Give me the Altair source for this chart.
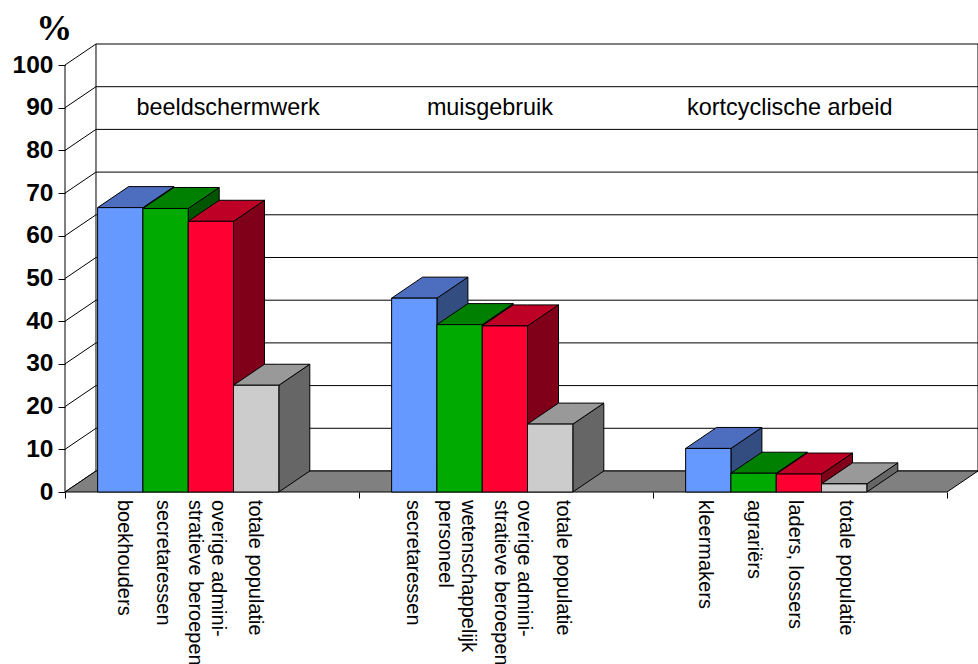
import altair as alt
import pandas as pd

# Percentages per occupational group, three panels of four bars each
HEADERS = ["beeldschermwerk", "muisgebruik", "kortcyclische arbeid"]
VALUES = [
    [66.6, 66.4, 63.4, 25.0],
    [45.4, 39.2, 38.9, 15.9],
    [10.2, 4.4, 4.2, 1.9],
]
LABELS = [
    ["boekhouders", "secretaressen", "overige admini-\nstratieve beroepen", "totale populatie"],
    ["secretaressen", "wetenschappelijk\npersoneel", "overige admini-\nstratieve beroepen", "totale populatie"],
    ["kleermakers", "agrariërs", "laders, lossers", "totale populatie"],
]
TICKS = list(range(0, 101, 10))

# Face colours per series position: front, top, side
FRONT = ["#6699FF", "#00AA00", "#FF0033", "#CCCCCC"]
TOP = ["#4D6EBF", "#008000", "#BF0026", "#999999"]
SIDE = ["#334D80", "#005500", "#800019", "#666666"]

# Horizontal layout in bar widths, depth of the oblique projection in axis units
GROUP_SPAN = 6.49
BAR_START = 0.72
DEPTH_X = 0.684
DEPTH_Y = 4.92
N_GROUPS = len(VALUES)
FRONT_END = GROUP_SPAN * N_GROUPS
# Slot of each label's first line
LABEL_SLOTS = [
    [1.30, 2.16, 3.37, 4.19],
    [7.68, 8.90, 10.14, 10.99],
    [14.13, 15.21, 16.12, 17.24],
]
HEADER_SLOTS = [3.6, 9.38, 16.0]

x_scale = alt.Scale(domain=[0, FRONT_END + DEPTH_X], range=[0, 913], nice=False, zero=False)
y_scale = alt.Scale(domain=[0, 100 + DEPTH_Y], range=[448, 0], nice=False, zero=False)
FONT = "Liberation Sans"


def add_poly(rows, face, fill, points):
    for px, py, py2 in points:
        rows.append({"face": face, "x": px, "y": py, "y2": py2, "fill": fill})


# Faces are appended back to front so that later bars overlap earlier ones
faces = []
add_poly(faces, "floor", "#808080", [
    (0, 0, 0),
    (DEPTH_X, 0, DEPTH_Y),
    (FRONT_END, 0, DEPTH_Y),
    (FRONT_END + DEPTH_X, DEPTH_Y, DEPTH_Y),
])
for g, group in enumerate(VALUES):
    for b, value in enumerate(group):
        x0 = g * GROUP_SPAN + BAR_START + b
        x1 = x0 + 1
        key = f"{g}-{b}"
        add_poly(faces, key + "-side", SIDE[b], [
            (x1, 0, value),
            (x1 + DEPTH_X, DEPTH_Y, value + DEPTH_Y),
        ])
        add_poly(faces, key + "-top", TOP[b], [
            (x0, value, value),
            (x0 + DEPTH_X, value, value + DEPTH_Y),
            (x1, value, value + DEPTH_Y),
            (x1 + DEPTH_X, value + DEPTH_Y, value + DEPTH_Y),
        ])
        add_poly(faces, key + "-front", FRONT[b], [
            (x0, 0, value),
            (x1, 0, value),
        ])
faces = pd.DataFrame(faces)

# Back wall: horizontal gridlines, the diagonals on the side wall and the wall edges
wall = []
for t in TICKS:
    wall.append({"x": DEPTH_X, "x2": FRONT_END + DEPTH_X, "y": t + DEPTH_Y, "y2": t + DEPTH_Y})
    wall.append({"x": 0, "x2": DEPTH_X, "y": t, "y2": t + DEPTH_Y})
wall.append({"x": 0, "x2": 0, "y": 0, "y2": 100})
wall.append({"x": DEPTH_X, "x2": DEPTH_X, "y": DEPTH_Y, "y2": 100 + DEPTH_Y})
wall.append({"x": FRONT_END + DEPTH_X, "x2": FRONT_END + DEPTH_X, "y": DEPTH_Y, "y2": 100 + DEPTH_Y})
wall = pd.DataFrame(wall)

# The walls carry the axes; every other layer shares the same scales
wall_layer = alt.Chart(wall).mark_rule(color="#000000", strokeWidth=1).encode(
    x=alt.X("x:Q", scale=x_scale, title=None, axis=alt.Axis(
        values=[g * GROUP_SPAN for g in range(N_GROUPS + 1)], labels=False, domain=False,
        grid=False, tickSize=6, tickColor="#000000", tickWidth=1)),
    x2="x2:Q",
    y=alt.Y("y:Q", scale=y_scale, title=None, axis=alt.Axis(
        values=TICKS, domain=False, grid=False, tickSize=7, tickColor="#000000", tickWidth=1,
        labelFont=FONT, labelFontSize=24.5, labelFontWeight="bold", labelColor="#000000",
        labelPadding=5)),
    y2="y2:Q",
)

face_layer = alt.Chart(faces).mark_area(
    orient="vertical", stroke="#000000", strokeWidth=1, opacity=1, clip=False
).encode(
    x=alt.X("x:Q", scale=x_scale),
    y=alt.Y("y:Q", scale=y_scale),
    y2="y2:Q",
    detail="face:N",
    fill=alt.Fill("fill:N", scale=None),
)

header_layer = alt.Chart(pd.DataFrame({"text": HEADERS, "x": HEADER_SLOTS, "y": [90.0] * 3})).mark_text(
    font=FONT, fontSize=23.4, color="#000000", align="center", baseline="middle"
).encode(
    x=alt.X("x:Q", scale=x_scale),
    y=alt.Y("y:Q", scale=y_scale),
    text="text:N",
)

label_rows = []
for slots, names in zip(LABEL_SLOTS, LABELS):
    for slot, name in zip(slots, names):
        label_rows.append({"x": slot, "text": name})

label_layer = alt.Chart(pd.DataFrame(label_rows)).mark_text(
    font=FONT, fontSize=20, color="#000000", angle=90, align="left", baseline="middle",
    lineBreak="\n", lineHeight=23,
).encode(
    x=alt.X("x:Q", scale=x_scale),
    y=alt.value(456),
    text="text:N",
)

percent_layer = alt.Chart(pd.DataFrame({"x": [-0.24], "y": [108.4], "text": ["%"]})).mark_text(
    font="Liberation Serif", fontSize=36, fontWeight="bold", color="#000000", align="center", baseline="middle"
).encode(
    x=alt.X("x:Q", scale=x_scale),
    y=alt.Y("y:Q", scale=y_scale),
    text="text:N",
)

chart = alt.layer(
    wall_layer, face_layer, header_layer, label_layer, percent_layer
).properties(
    width=913,
    height=448,
    padding={"left": 65, "top": 44, "right": 0, "bottom": 172},
    autosize=alt.AutoSizeParams(type="none"),
    background="#FFFFFF",
).configure_view(stroke=None)

chart.save("out.html", embed_options={"renderer": "svg", "actions": False})
